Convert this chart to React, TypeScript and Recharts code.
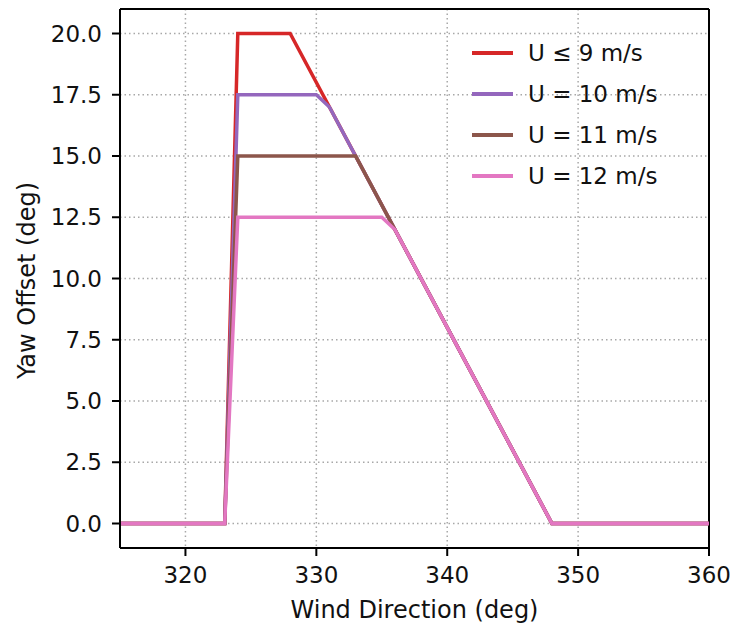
import {
  LineChart, Line, XAxis, YAxis, CartesianGrid, Legend, ReferenceLine,
} from 'recharts';

// yaw offset schedule vertices, one pair of arrays per wind speed
const DIR_LE9 = [315, 323, 324, 328, 348, 360];
const YAW_LE9 = [0, 0, 20, 20, 0, 0];

const DIR_10 = [315, 323, 324, 330, 331, 348, 360];
const YAW_10 = [0, 0, 17.5, 17.5, 17, 0, 0];

const DIR_11 = [315, 323, 324, 333, 348, 360];
const YAW_11 = [0, 0, 15, 15, 0, 0];

const DIR_12 = [315, 323, 324, 335, 336, 348, 360];
const YAW_12 = [0, 0, 12.5, 12.5, 12, 0, 0];

const SERIES_NAMES = ['U \u2264 9 m/s', 'U = 10 m/s', 'U = 11 m/s', 'U = 12 m/s'];
const SERIES_COLORS = ['#d62728', '#9467bd', '#8c564b', '#e377c2'];

const X_TICKS = [320, 330, 340, 350, 360];
const Y_TICKS = [0, 2.5, 5, 7.5, 10, 12.5, 15, 17.5, 20];

const FONT = '"DejaVu Sans", sans-serif';

const toPoints = (dirs: number[], yaws: number[]) =>
  dirs.map((d, i) => ({ dir: d, yaw: yaws[i] }));

const SERIES = [
  toPoints(DIR_LE9, YAW_LE9),
  toPoints(DIR_10, YAW_10),
  toPoints(DIR_11, YAW_11),
  toPoints(DIR_12, YAW_12),
];

const XTitle = ({ viewBox }: any) => (
  <text
    x={viewBox.x + viewBox.width / 2}
    y={viewBox.y + 70}
    textAnchor="middle"
    fontSize={24}
    fontFamily={FONT}
    fill="#111"
  >
    Wind Direction (deg)
  </text>
);

const YTitle = ({ viewBox }: any) => {
  const cx = viewBox.x + 35;
  const cy = viewBox.y + viewBox.height / 2 + 2;
  return (
    <text
      x={cx}
      y={cy}
      transform={`rotate(-90 ${cx} ${cy})`}
      textAnchor="middle"
      fontSize={24}
      fontFamily={FONT}
      fill="#111"
    >
      Yaw Offset (deg)
    </text>
  );
};

const renderLegend = () => (
  <div style={{ fontFamily: FONT, fontSize: 23, color: '#111' }}>
    {SERIES_NAMES.map((name, i) => (
      <div key={name} style={{ display: 'flex', alignItems: 'center', height: 41 }}>
        <span
          style={{
            display: 'inline-block', width: 41, height: 4,
            background: SERIES_COLORS[i], marginRight: 15,
          }}
        />
        <span style={{ whiteSpace: 'nowrap' }}>{name}</span>
      </div>
    ))}
  </div>
);

export default function App() {
  return (
    <div style={{ position: 'absolute', left: 0, top: 0, background: '#fff' }}>
      <LineChart
        width={733}
        height={625}
        margin={{ top: 9, right: 24, bottom: 0, left: 0 }}
      >
        <CartesianGrid stroke="#a8a8a8" strokeWidth={1.5} strokeDasharray="1.5 3" />
        <XAxis
          dataKey="dir"
          type="number"
          domain={[315, 360]}
          ticks={X_TICKS}
          allowDataOverflow
          height={77}
          stroke="#000"
          strokeWidth={2}
          tickSize={8}
          tickMargin={11}
          tick={{ fill: '#111', fontSize: 23, fontFamily: FONT }}
          label={<XTitle />}
        />
        <YAxis
          dataKey="yaw"
          type="number"
          domain={[-1, 21]}
          ticks={Y_TICKS}
          allowDataOverflow
          width={120}
          stroke="#000"
          strokeWidth={2}
          tickSize={8}
          tickMargin={10}
          tickFormatter={(v: number) => v.toFixed(1)}
          tick={{ fill: '#111', fontSize: 23, fontFamily: FONT }}
          label={<YTitle />}
        />
        {/* top and right spines */}
        <ReferenceLine y={21} stroke="#000" strokeWidth={2} ifOverflow="visible" />
        <ReferenceLine x={360} stroke="#000" strokeWidth={2} ifOverflow="visible" />
        {SERIES.map((pts, i) => (
          <Line
            key={SERIES_NAMES[i]}
            data={pts}
            dataKey="yaw"
            name={SERIES_NAMES[i]}
            type="linear"
            stroke={SERIES_COLORS[i]}
            strokeWidth={3.5}
            dot={false}
            activeDot={false}
            isAnimationActive={false}
          />
        ))}
        <Legend
          layout="vertical"
          align="center"
          verticalAlign="middle"
          content={renderLegend}
          wrapperStyle={{ position: 'absolute', left: 472, top: 32, width: 'auto' }}
        />
      </LineChart>
    </div>
  );
}
